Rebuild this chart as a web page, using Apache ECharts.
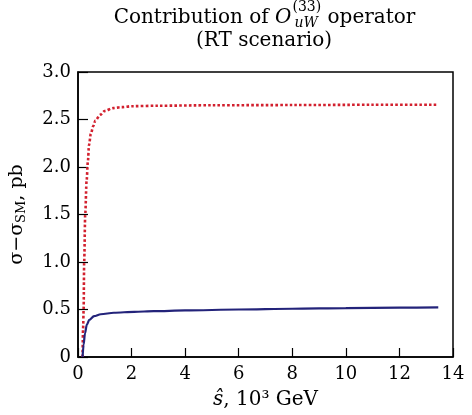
<!DOCTYPE html>
<html><head><meta charset="utf-8">
<script src="https://cdn.jsdelivr.net/npm/echarts@6/dist/echarts.min.js"></script>
<style>html,body{margin:0;padding:0;background:#fff}#c{width:472px;height:415px}</style>
</head><body><div id="c"></div>
<script>
var xTicks = [0, 2, 4, 6, 8, 10, 12, 14];
var yTicks = [0, 0.5, 1.0, 1.5, 2.0, 2.5, 3.0];
var redX = [0.17,0.19,0.21,0.23,0.27,0.32,0.37,0.41,0.48,0.57,0.65,0.83,1.0,1.31,1.63,2.0,3,5,8,11,13.45];
var redY = [0,0.3,0.5,1.0,1.5,1.85,2.06,2.23,2.35,2.43,2.49,2.55,2.59,2.62,2.63,2.64,2.645,2.65,2.652,2.655,2.656];
var blueX = [0.17,0.21,0.26,0.33,0.42,0.6,0.85,1.34,2.1,2.83,4,6,8,10,12,13.45];
var blueY = [0,0.13,0.25,0.34,0.39,0.43,0.45,0.466,0.476,0.482,0.49,0.5,0.508,0.514,0.519,0.523];

var FONT = '"DejaVu Serif", "Liberation Serif", serif';
function zip(a, b) { return a.map(function (v, i) { return [v, b[i]]; }); }

var cv = document.createElement('canvas').getContext('2d');
function w(t, size, style) { cv.font = (style || '') + ' ' + size + 'px ' + FONT; return cv.measureText(t).width; }

var tSize = 20, sSize = 14;
var p1 = 'Contribution of ', pO = 'O', pSup = '(33)', pSub = 'uW', p2 = ' operator';
var wO = w(pO, tSize, 'italic');
var wSup = w(pSup, sSize), wSub = w(pSub, sSize, 'italic');
var total = w(p1, tSize) + wO + Math.max(wSup, wSub) + w(p2, tSize);
var cx = 264;
var x0 = cx - total / 2;
var xO = x0 + w(p1, tSize);
var xS = xO + wO + 1;
var xOp = xS + Math.max(wSup, wSub);

var chart = echarts.init(document.getElementById('c'));
chart.setOption({
  animation: false,
  backgroundColor: '#fff',
  grid: { left: 75.5, right: 19, top: 72, bottom: 58, show: true, borderColor: '#000', borderWidth: 1.5, backgroundColor: 'transparent' },
  graphic: [
    { type: 'text', left: x0, top: 8, style: { text: p1, font: tSize + 'px ' + FONT, fill: '#000' } },
    { type: 'text', left: xO, top: 8, style: { text: pO, font: 'italic ' + tSize + 'px ' + FONT, fill: '#000' } },
    { type: 'text', left: xS, top: 0, style: { text: pSup, font: sSize + 'px ' + FONT, fill: '#000' } },
    { type: 'text', left: xS + 2, top: 16, style: { text: pSub, font: 'italic ' + sSize + 'px ' + FONT, fill: '#000' } },
    { type: 'text', left: xOp, top: 8, style: { text: p2, font: tSize + 'px ' + FONT, fill: '#000' } },
    { type: 'text', left: cx - w('(RT scenario)', tSize) / 2, top: 31, style: { text: '(RT scenario)', font: tSize + 'px ' + FONT, fill: '#000' } }
  ],
  xAxis: {
    type: 'value', min: 0, max: 14, interval: 2,
    name: '{i|ŝ}{n|, 10³ GeV}', nameLocation: 'middle', nameGap: 33,
    nameTextStyle: { rich: { i: { fontFamily: FONT, fontStyle: 'italic', fontSize: 20, color: '#000' }, n: { fontFamily: FONT, fontSize: 20, color: '#000' } } },
    axisLine: { show: true, lineStyle: { color: '#000', width: 1.5 } },
    axisTick: { show: true, inside: true, length: 9, lineStyle: { color: '#000', width: 1.2 } },
    axisLabel: { fontFamily: FONT, fontSize: 18, color: '#000', margin: 8, formatter: function (v) { return xTicks.indexOf(v) >= 0 ? String(v) : ''; } },
    splitLine: { show: false }
  },
  yAxis: {
    type: 'value', min: 0, max: 3, interval: 0.5,
    name: '{a|σ−σ}{s|SM}{a|, pb}', nameLocation: 'middle', nameGap: 50, nameRotate: 90,
    nameTextStyle: { rich: { a: { fontFamily: FONT, fontSize: 19, color: '#000' }, s: { fontFamily: FONT, fontSize: 13, color: '#000', verticalAlign: 'bottom', padding: [8, 0, 0, 0] } } },
    axisLine: { show: true, lineStyle: { color: '#000', width: 1.5 } },
    axisTick: { show: true, inside: true, length: 10, lineStyle: { color: '#000', width: 1.2 } },
    axisLabel: { fontFamily: FONT, fontSize: 18, color: '#000', margin: 7, formatter: function (v) { return v.toFixed(1) === '0.0' ? '0' : v.toFixed(1); } },
    splitLine: { show: false }
  },
  series: [
    { type: 'line', data: zip(redX, redY), showSymbol: false, smooth: 0.3, smoothMonotone: 'x',
      lineStyle: { color: '#d2202e', width: 2.6, type: [2.6, 2.2], cap: 'butt' } },
    { type: 'line', data: zip(blueX, blueY), showSymbol: false, smooth: 0.3, smoothMonotone: 'x',
      lineStyle: { color: '#23237a', width: 2.2 } }
  ]
});
</script></body></html>
